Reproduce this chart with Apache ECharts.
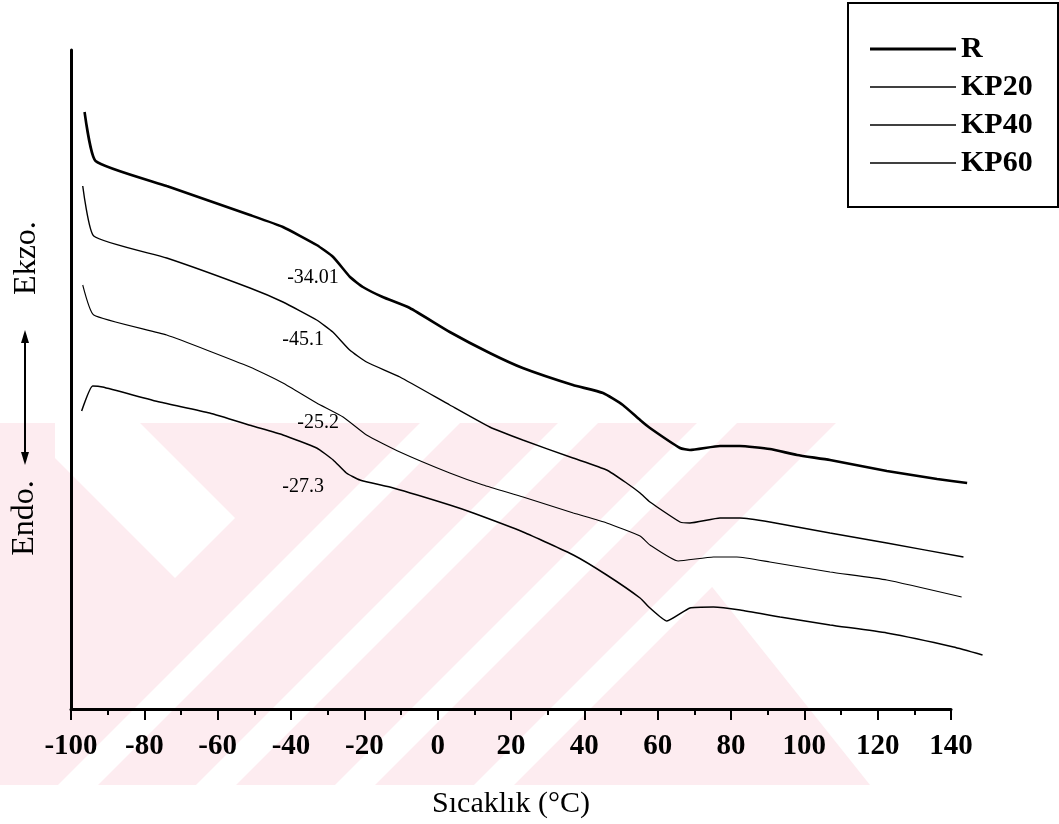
<!DOCTYPE html>
<html>
<head>
<meta charset="utf-8">
<script src="https://cdn.jsdelivr.net/npm/echarts@6/dist/echarts.min.js"></script>
<style>
html,body{margin:0;padding:0;background:#fff;}
#main{width:1059px;height:824px;}
</style>
</head>
<body>
<div id="main"></div>
<script>
// Temperature (°C) and relative heat-flow signal (arbitrary units)
const rT   = [-96.3,-93.3,-73.9,-51.2,-42.2,-33.0,-28.5,-23.9,-20.4,-15.0,-7.6,3.3,14.2,23.2,36.9,45.1,50.5,55.2,57.9,66.1,68.8,77.0,82.4,90.6,98.0,107.0,122.5,136.2,144.4];
const rV   = [597,548,523,494,482,464,452,432,422,412,401,377,356,341,324,316,304,289,281,261,259,263,263,260,254,249,238,230,226];
const kp20T = [-96.8,-93.8,-73.9,-51.2,-42.2,-33.0,-28.6,-24.0,-19.4,-10.3,3.3,14.2,23.2,36.9,46.1,51.5,55.2,57.9,66.1,68.8,77.0,82.4,90.6,107.0,122.5,143.4];
const kp20V = [523,473,451,421,407,389,377,359,347,332,304,282,269,251,239,226,216,207,187,186,191,191,187,176,166,152];
const kp40T = [-96.8,-93.8,-73.9,-51.2,-42.2,-33.0,-25.8,-19.4,-10.3,3.3,12.4,23.3,37.0,46.1,55.2,57.9,65.6,75.2,81.6,90.6,107.0,122.5,142.9];
const kp40V = [424,394,374,342,326,306,292,274,257,236,224,212,196,186,173,164,148,152,152,147,137,129,112];
const kp60T = [-97.1,-94.1,-91.4,-75.8,-62.2,-50.5,-42.2,-33.0,-28.5,-24.9,-21.2,-12.1,3.3,9.7,23.3,37.0,46.1,55.2,57.9,62.5,68.8,75.2,82.5,93.4,107.0,122.5,140.7,148.6];
const kp60V = [298,323,322,307,296,283,274,261,249,236,229,221,204,196,177,154,134,111,101,88,101,102,99,92,84,76,62,54];

const seriesNames = ['R','KP20','KP40','KP60'];
const xTicks = [-100,-80,-60,-40,-20,0,20,40,60,80,100,120,140];
const xDataMax = 150;   // the traces run a little past the last labelled tick

// Glass-transition annotations
const noteTexts = ['-34.01','-45.1','-25.2','-27.3'];
const noteT = [-34.0,-36.7,-32.6,-36.7];
const noteV = [431,369,286,222];

function zip(a,b){return a.map((v,i)=>[v,b[i]]);}

const chart = echarts.init(document.getElementById('main'));
const serif = '"Liberation Serif","Times New Roman",serif';
const widths = [2.6,1.4,1.1,1.5];
const allT = [rT,kp20T,kp40T,kp60T];
const allV = [rV,kp20V,kp40V,kp60V];

// grid 0 carries the visible axes; grid 1 has the same scale but reaches to xDataMax
const gL = 71, gR = 108, gT = 50, gB = 115, W = 1059;
const pxPerUnit = (W - gL - gR) / (xTicks[xTicks.length-1] - xTicks[0]);
const gR2 = W - gL - pxPerUnit * (xDataMax - xTicks[0]);

const lineSeries = seriesNames.map((n,i)=>({
  name:n, type:'line', xAxisIndex:1, yAxisIndex:1, data:zip(allT[i],allV[i]),
  showSymbol:false, symbol:'none', smooth:0.15, clip:false,
  lineStyle:{color:'#000',width:widths[i]}, itemStyle:{color:'#000'},
  emphasis:{disabled:true}, z:5
}));

const notes = {
  type:'scatter', silent:true, symbolSize:1, itemStyle:{opacity:0},
  xAxisIndex:1, yAxisIndex:1,
  data: noteTexts.map((t,i)=>({name:t,value:[noteT[i],noteV[i]]})),
  label:{show:true,position:'inside',formatter:p=>p.name,color:'#000',
    fontFamily:serif,fontSize:20,opacity:1},
  z:6
};

const thick = 'path://M0,0L0,0M0,5.5H86V8.5H0ZM86,14L86,14';
const thin  = 'path://M0,0L0,0M0,6.3H86V7.7H0ZM86,14L86,14';

// faint background watermark of the scanned page (decoration)
const pink = '#fdecf0';
const wmTop = 423, wmBot = 785, wmH = wmBot - wmTop;
const wm = [];
wm.push({type:'polygon',z:-10,silent:true,shape:{points:[[0,wmTop],[843,wmTop],[705,578],[870,wmBot],[0,wmBot]]},style:{fill:pink}});
[420,558,697,836].forEach(x0=>{
  wm.push({type:'polygon',z:-9,silent:true,shape:{points:[[x0,wmTop],[x0+40,wmTop],[x0+40-wmH,wmBot],[x0-wmH,wmBot]]},style:{fill:'#fff'}});
});
wm.push({type:'polygon',z:-9,silent:true,shape:{points:[[55,wmTop],[140,wmTop],[235,518],[175,578],[55,458]]},style:{fill:'#fff'}});

chart.setOption({
  backgroundColor:'#fff',
  animation:false,
  grid:[{left:gL,right:gR,top:gT,bottom:gB},{left:gL,right:gR2,top:gT,bottom:gB}],
  legend:{
    orient:'vertical', left:870, top:34, padding:0,
    itemWidth:86, itemHeight:14, itemGap:8, selectedMode:false,
    data:seriesNames.map((n,i)=>({name:n,icon:i===0?thick:thin,itemStyle:{color:'#000'}})),
    textStyle:{color:'#000',fontFamily:serif,fontSize:30,fontWeight:'bold',lineHeight:30}
  },
  xAxis:[{
    type:'value', gridIndex:0, min:xTicks[0], max:xTicks[xTicks.length-1], interval:20,
    axisLine:{show:true,onZero:false,lineStyle:{color:'#000',width:3}},
    axisTick:{show:true,inside:false,length:11,lineStyle:{color:'#000',width:2}},
    minorTick:{show:true,splitNumber:2,length:6,lineStyle:{color:'#000',width:2}},
    splitLine:{show:false},
    axisLabel:{color:'#000',fontFamily:serif,fontSize:29,fontWeight:'bold',margin:23},
    name:'Sıcaklık (°C)', nameLocation:'middle', nameGap:80,
    nameTextStyle:{color:'#000',fontFamily:serif,fontSize:30}
  },{
    type:'value', gridIndex:1, min:xTicks[0], max:xDataMax, show:false
  }],
  yAxis:[{
    type:'value', gridIndex:0, min:0, max:659,
    axisLine:{show:true,onZero:false,lineStyle:{color:'#000',width:3}},
    axisTick:{show:false}, axisLabel:{show:false}, splitLine:{show:false}
  },{
    type:'value', gridIndex:1, min:0, max:659, show:false
  }],
  graphic:[
    ...wm,
    {type:'rect',shape:{x:848,y:3,width:210,height:204},style:{fill:'none',stroke:'#000',lineWidth:2},z:10},
    {type:'text',x:27,y:258,rotation:Math.PI/2,style:{text:'Ekzo.',font:'32px '+serif,fill:'#000',align:'center',verticalAlign:'middle'}},
    {type:'text',x:25,y:518,rotation:Math.PI/2,style:{text:'Endo.',font:'32px '+serif,fill:'#000',align:'center',verticalAlign:'middle'}},
    {type:'line',shape:{x1:25,y1:338,x2:25,y2:457},style:{stroke:'#000',lineWidth:2}},
    {type:'polygon',shape:{points:[[25,330],[21,343],[29,343]]},style:{fill:'#000'}},
    {type:'polygon',shape:{points:[[25,465],[21,452],[29,452]]},style:{fill:'#000'}}
  ],
  series:[...lineSeries, notes]
});
</script>
</body>
</html>
